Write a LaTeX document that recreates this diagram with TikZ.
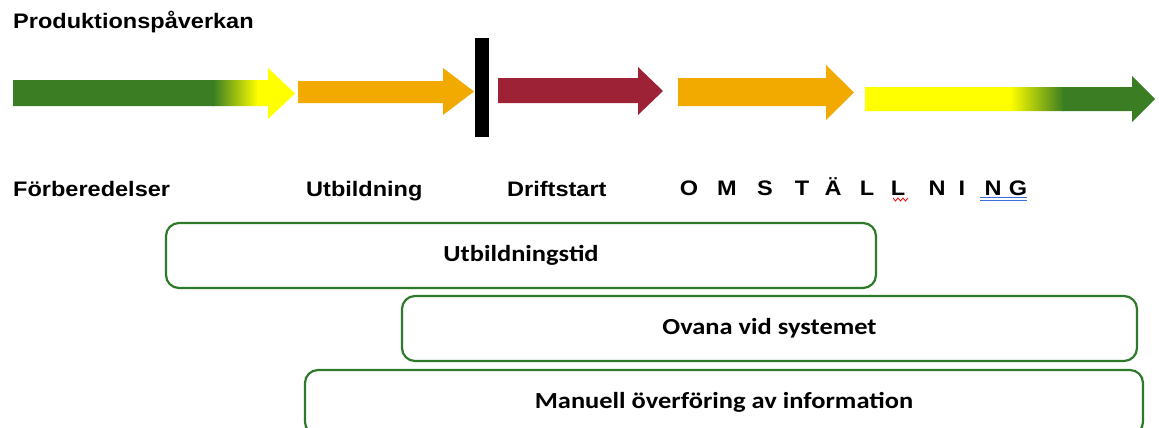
\documentclass[tikz,border=0pt]{standalone}
\usepackage{fontspec}
\newfontfamily\labfont[FakeStretch=1.12]{Liberation Sans}
\newfontfamily\boxfont[FakeStretch=1.15]{Carlito}
\definecolor{pgreen}{HTML}{3A7D22}
\definecolor{porange}{HTML}{F2AA00}
\definecolor{pred}{HTML}{9E2236}
\definecolor{pyellow}{HTML}{FFFF00}
\definecolor{bgreen}{HTML}{2F7A2A}
\definecolor{spellblue}{HTML}{3D6FD6}
\tikzset{
  lab/.style={font=\labfont\bfseries\fontsize{21}{25}\selectfont, inner sep=0pt, anchor=base west},
  letter/.style={font=\labfont\bfseries\fontsize{21}{25}\selectfont, inner sep=0pt, anchor=base},
  phase/.style={draw=bgreen, line width=2.2pt, rounded corners=13pt, fill=white,
    font=\boxfont\bfseries\fontsize{23}{27}\selectfont, minimum height=65pt, inner sep=0pt},
}
\begin{document}
\begin{tikzpicture}[x=1pt,y=-1pt]
\useasboundingbox (0,0) rectangle (1159,428);
\clip (0,0) rectangle (1159,428);

% title
\node[lab] (title) at (13,29) {Produktionspåverkan};

% arrow 1: green -> yellow
\begin{scope}
  \clip (13,80) -- (268,80) -- (268,68) -- (295,93.5) -- (268,119) -- (268,106) -- (13,106) -- cycle;
  \fill[pgreen] (12,60) rectangle (214,125);
  \shade[left color=pgreen, right color=pyellow] (213,60) rectangle (258,125);
  \fill[pyellow] (257,60) rectangle (300,125);
\end{scope}

% arrow 2: orange
\fill[porange] (298,81) -- (443,81) -- (443,68) -- (474,91.5) -- (443,115) -- (443,103) -- (298,103) -- cycle;

% black bar
\fill[black] (475,38) rectangle (489,137);

% arrow 3: red
\fill[pred] (498,78) -- (638,78) -- (638,67) -- (663,91) -- (638,115) -- (638,103) -- (498,103) -- cycle;

% arrow 4: orange
\fill[porange] (678,78) -- (826,78) -- (826,65) -- (854,92.5) -- (826,120) -- (826,106) -- (678,106) -- cycle;

% arrow 5: yellow -> green
\begin{scope}
  \clip (865,87) -- (1132,87) -- (1132,76) -- (1155,99) -- (1132,122) -- (1132,111) -- (865,111) -- cycle;
  \fill[pyellow] (860,60) rectangle (1011,125);
  \shade[left color=pyellow, right color=pgreen] (1010,60) rectangle (1064,125);
  \fill[pgreen] (1063,60) rectangle (1160,125);
\end{scope}

% labels
\node[lab] (forb) at (13,196) {Förberedelser};
\node[lab] (utb) at (306,196) {Utbildning};
\node[lab] (drift) at (507,196) {Driftstart};

\foreach \ch/\xx [count=\i] in {O/689, M/727, S/765, T/802, Ä/833, L/867, L/898, N/937, I/962, N/993, G/1018}
  \node[letter] (om\i) at (\xx,195) {\ch};

% spell-check marks
\draw[red, line width=0.8pt] (893,198) -- (895.5,201) -- (898,198) -- (900.5,201) -- (903,198) -- (905.5,201) -- (908,198);
\draw[spellblue, line width=1pt] (980,197.5) -- (1027,197.5);
\draw[spellblue, line width=1pt] (980,200.5) -- (1027,200.5);

% boxes
\node[phase, minimum width=710pt] (b1) at (521,255.5) {Utbildningstid};
\node[phase, minimum width=735pt] (b2) at (769.5,328.5) {Ovana vid systemet};
\node[phase, minimum width=838pt] (b3) at (724,402.5) {Manuell överföring av information};
\end{tikzpicture}
\end{document}
